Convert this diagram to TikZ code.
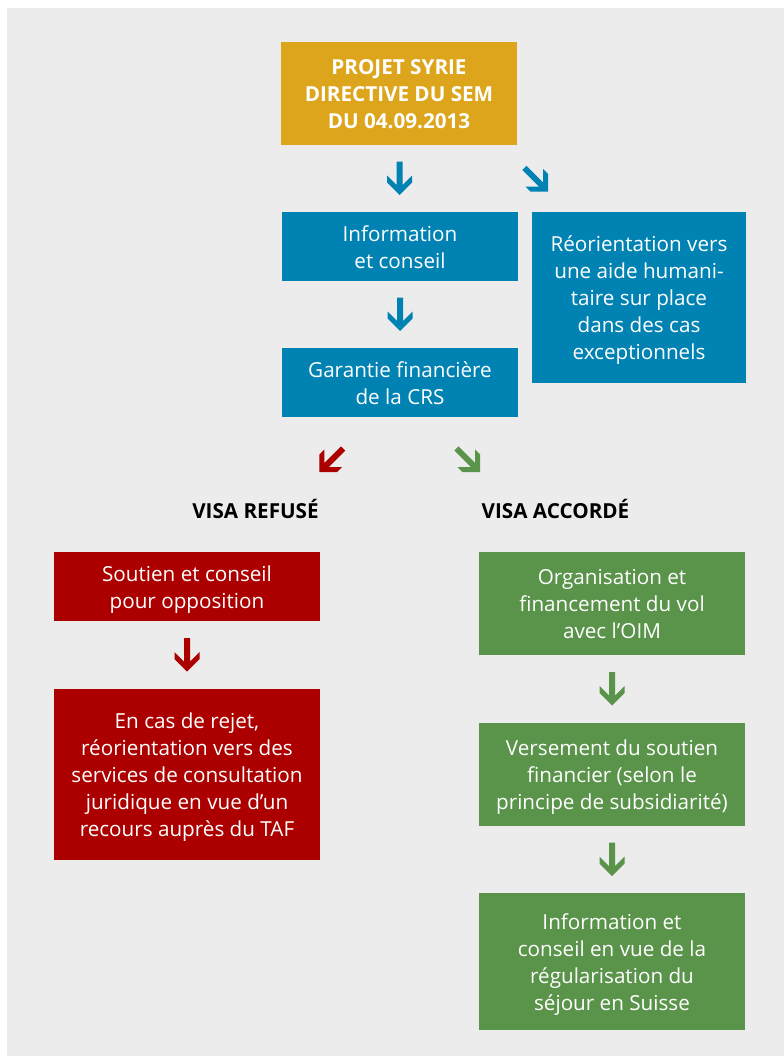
\documentclass[tikz,border=0pt]{standalone}
\usepackage{fontspec}
\setmainfont{Open Sans}
\usetikzlibrary{calc}
\definecolor{cbg}{HTML}{ECECEC}
\definecolor{cyel}{HTML}{DCA51C}
\definecolor{cblue}{HTML}{0083B3}
\definecolor{cred}{HTML}{AC0000}
\definecolor{cgreen}{HTML}{5A934A}
\tikzset{
  box/.style={rectangle, inner sep=0pt, text=white, align=center,
    font=\fontsize{15.5}{20.25}\selectfont, text depth=2pt},
  two/.style={text height=34.25pt},
  three/.style={text height=54.5pt},
  four/.style={text height=74.75pt},
  five/.style={text height=95pt},
  bluebox/.style={box, fill=cblue},
  redbox/.style={box, fill=cred},
  greenbox/.style={box, fill=cgreen},
  yelbox/.style={box, fill=cyel, font=\fontsize{15.5}{20.25}\selectfont\bfseries},
  visalabel/.style={inner sep=0pt, text=black, font=\fontsize{15.5}{20.25}\selectfont\bfseries},
  fatarrow/.pic={\fill (-3,-17)--(3,-17)--(3,6.5)--(12.5,-3)--(12.5,4)--(0,16.5)--(-12.5,4)--(-12.5,-3)--(-3,6.5)--cycle;}
}
\begin{document}
\begin{tikzpicture}[x=0.75pt,y=-0.75pt]
\useasboundingbox (0,0) rectangle (784,1056);
\fill[white] (0,0) rectangle (784,1056);
\fill[cbg] (7,8) rectangle (784,1056);

\node[yelbox, three, minimum width=177pt, minimum height=77.25pt] (proj) at (399,93.5)
  {PROJET SYRIE\\DIRECTIVE DU SEM\\DU 04.09.2013};
\node[bluebox, two, minimum width=177pt, minimum height=51.75pt] (info) at (400,246.5)
  {Information\\et conseil};
\node[bluebox, five, minimum width=160.5pt, minimum height=128.25pt] (reor) at (639,297.5)
  {Réorientation vers\\une aide humani-\\taire sur place\\dans des cas\\exceptionnels};
\node[bluebox, two, minimum width=177pt, minimum height=51.75pt] (gar) at (400,382.5)
  {Garantie financière\\de la CRS};

\node[visalabel] (refuse) at (255.5,509) {VISA REFUSÉ};
\node[visalabel] (accorde) at (555.5,509) {VISA ACCORDÉ};

\node[redbox, two, minimum width=199.5pt, minimum height=51.75pt] (sout) at (187,586.5)
  {Soutien et conseil\\pour opposition};
\node[redbox, five, minimum width=199.5pt, minimum height=128.25pt] (rejet) at (187,774.5)
  {En cas de rejet,\\réorientation vers des\\services de consultation\\juridique en vue d’un\\recours auprès du TAF};

\node[greenbox, three, minimum width=199.5pt, minimum height=77.25pt] (vol) at (612,603.5)
  {Organisation et\\financement du vol\\avec l’OIM};
\node[greenbox, three, minimum width=199.5pt, minimum height=77.25pt] (vers) at (612,774.5)
  {Versement du soutien\\financier (selon le\\principe de subsidiarité)};
\node[greenbox, four, minimum width=199.5pt, minimum height=102.75pt] (sejour) at (612,961.5)
  {Information et\\conseil en vue de la\\régularisation du\\séjour en Suisse};

\pic[cblue] at ($(proj.south)!0.5!(info.north)$) {fatarrow};
\pic[cblue, rotate=45] at (536.5,180) {fatarrow};
\pic[cblue] at ($(info.south)!0.5!(gar.north)$) {fatarrow};
\pic[cred, rotate=-45] at (331,460.5) {fatarrow};
\pic[cgreen, rotate=45] at (468.5,460.5) {fatarrow};
\pic[cred] at ($(sout.south)!0.5!(rejet.north)$) {fatarrow};
\pic[cgreen] at ($(vol.south)!0.5!(vers.north)$) {fatarrow};
\pic[cgreen] at ($(vers.south)!0.5!(sejour.north)$) {fatarrow};
\end{tikzpicture}
\end{document}
